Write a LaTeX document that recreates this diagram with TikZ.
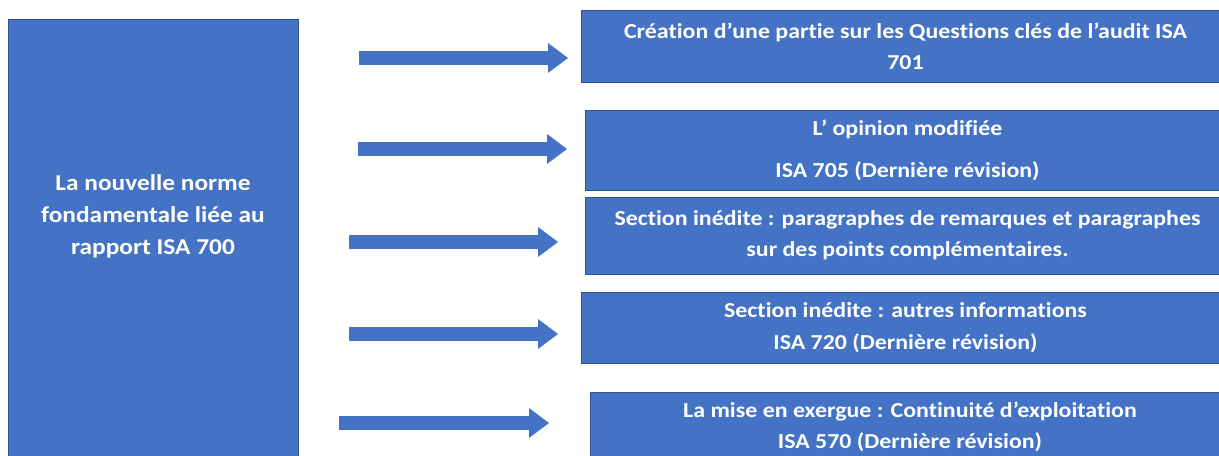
\documentclass[tikz,border=0pt]{standalone}
\usepackage{fontspec}
\setmainfont{Carlito}[Ligatures=NoCommon,FakeStretch=1.12]
\usepackage{xcolor}
\usetikzlibrary{positioning,arrows.meta}
\definecolor{isablue}{HTML}{4472C4}
\definecolor{isaline}{HTML}{2F528F}
\tikzset{
  isabox/.style={rectangle,fill=isablue,draw=isaline,line width=0.6pt,inner sep=0pt,
    text=white,align=center,font=\bfseries\fontsize{16}{23.5}\selectfont},
  isatext/.style={text=white,align=center,inner sep=0pt,font=\bfseries\fontsize{17}{24}\selectfont},
  bigarrow/.style={draw=isablue,line width=10.5pt,
    -{Triangle[length=15pt,width=22.5pt,line width=0pt]}}
}

\begin{document}
\begin{tikzpicture}[x=0.75pt,y=-0.75pt]
  \useasboundingbox (0,0) rectangle (1219,456);
  \clip (0,0) rectangle (1219,456);
  % \draw[help lines] (0,0) grid (1219,456);
  % bloc de gauche
  \node[isabox,minimum width=217.5pt,minimum height=338.25pt] (norme) at (153,244.5) {};
  \node[isatext] (normetxt) at (153,216) {La nouvelle norme\\fondamentale liée au\\rapport ISA 700};
  % blocs de droite
  \node[isabox,minimum width=486.75pt,minimum height=54pt] (kam) at (905.5,46)
    {Création d’une partie sur les Questions clés de l’audit ISA\\701};
  \node[isabox,minimum width=483.75pt,minimum height=60pt] (opinion) at (907.5,150)
    {L’ opinion modifiée\\[8pt]ISA 705 (Dernière révision)};
  \node[isabox,minimum width=483.75pt,minimum height=57.75pt] (remarques) at (907.5,235.5)
    {Section inédite : paragraphes de remarques et paragraphes\\sur des points complémentaires.};
  \node[isabox,minimum width=486.75pt,minimum height=53.25pt] (autres) at (905.5,327.5)
    {Section inédite : autres informations\\ISA 720 (Dernière révision)};
  \node[isabox,minimum width=480pt,minimum height=52.5pt] (exergue) at (910,427)
    {La mise en exergue : Continuité d’exploitation\\ISA 570 (Dernière révision)};
  % fleches
  \coordinate (t1) at (359,58);  \coordinate (h1) at (568,58);
  \coordinate (t2) at (358,149); \coordinate (h2) at (567,149);
  \coordinate (t3) at (349,242); \coordinate (h3) at (558,242);
  \coordinate (t4) at (349,334); \coordinate (h4) at (558,334);
  \coordinate (t5) at (339,423); \coordinate (h5) at (549,423);
  \foreach \i in {1,...,5}
    \draw[bigarrow] (t\i) -- (h\i);
\end{tikzpicture}
\end{document}
